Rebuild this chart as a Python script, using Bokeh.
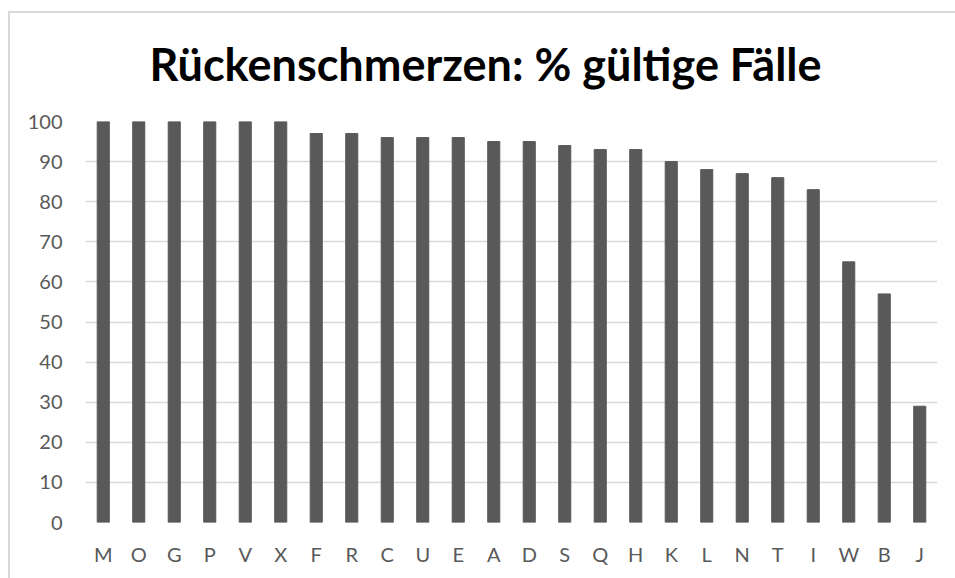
from bokeh.plotting import figure
from bokeh.models import Range1d, FixedTicker, Title
from bokeh.embed import file_html
from bokeh.resources import INLINE

categories = ["M", "O", "G", "P", "V", "X", "F", "R", "C", "U", "E", "A",
              "D", "S", "Q", "H", "K", "L", "N", "T", "I", "W", "B", "J"]
values = [100, 100, 100, 100, 100, 100, 97, 97, 96, 96, 96, 95,
          95, 94, 93, 93, 90, 88, 87, 86, 83, 65, 57, 29]
y_ticks = [0, 10, 20, 30, 40, 50, 60, 70, 80, 90, 100]
title_text = "Rückenschmerzen: % gültige Fälle"

box_bg = ("linear-gradient(#d9d9d9,#d9d9d9) 0 8px / 100% 2px no-repeat, "
          "linear-gradient(#d9d9d9,#d9d9d9) 0 8px / 2px 100% no-repeat")

p = figure(x_range=categories, y_range=Range1d(0, 100),
           width=947, height=575, output_backend="svg", toolbar_location=None,
           min_border_left=77, min_border_right=18, min_border_top=118,
           min_border_bottom=56, border_fill_color=None, outline_line_color=None,
           margin=(3, 0, 0, 8),
           styles={"background": box_bg})

t = Title(text=title_text, text_font="Lato", text_font_style="bold",
          text_font_size="45px", text_color="#000000", align="left",
          offset=64, standoff=62)
p.add_layout(t, "above")

p.vbar(x=categories, top=values, width=0.34, color="#595959")

p.xgrid.grid_line_color = None
p.ygrid.grid_line_color = "#d9d9d9"
p.ygrid.grid_line_width = 1.3
p.yaxis.ticker = FixedTicker(ticks=y_ticks)

for ax in (p.xaxis[0], p.yaxis[0]):
    ax.axis_line_color = None
    ax.major_tick_line_color = None
    ax.minor_tick_line_color = None
    ax.major_label_text_font = "Lato"
    ax.major_label_text_font_size = "20px"
    ax.major_label_text_color = "#595959"
p.yaxis.major_label_standoff = 17
p.xaxis.major_label_standoff = 13
p.x_range.range_padding = 0
p.x_range.factor_padding = 0

open("out.html", "w").write(file_html(p, INLINE))
